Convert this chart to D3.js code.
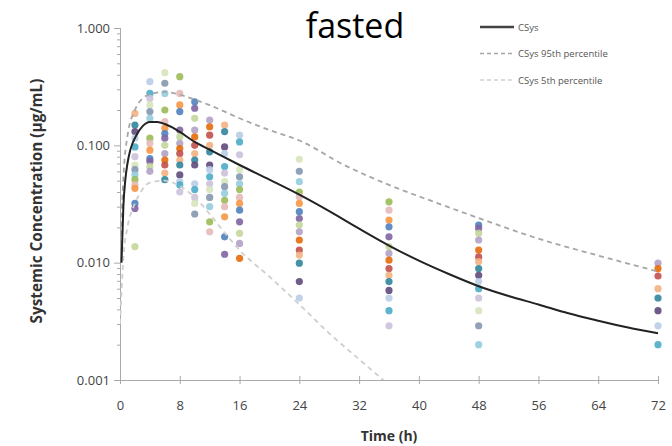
<!DOCTYPE html>
<html><head><meta charset="utf-8">
<script src="https://cdn.jsdelivr.net/npm/d3@7"></script>
<style>body{margin:0;background:#fff} svg{display:block}</style>
</head><body><svg id="c" width="672" height="446"></svg>
<script>
// ---- data ----
const sampleTimes = [2, 4, 6, 8, 10, 12, 14, 16, 24, 36, 48, 72];
const observed = [
  [0.187,0.149,0.131,0.115,0.097,0.080,0.068,0.062,0.056,0.051,0.046,0.043,0.032,0.029,0.0137],
  [0.349,0.277,0.251,0.221,0.194,0.170,0.115,0.104,0.091,0.077,0.073,0.066,0.060],
  [0.416,0.338,0.277,0.200,0.159,0.140,0.126,0.115,0.100,0.085,0.075,0.068,0.058,0.051],
  [0.385,0.277,0.221,0.194,0.135,0.118,0.104,0.094,0.085,0.075,0.068,0.056,0.049,0.046,0.040],
  [0.235,0.207,0.170,0.135,0.118,0.100,0.085,0.075,0.068,0.047,0.042,0.036,0.032,0.026],
  [0.164,0.144,0.122,0.100,0.088,0.068,0.062,0.054,0.047,0.042,0.036,0.030,0.0223,0.0183],
  [0.149,0.131,0.097,0.085,0.066,0.058,0.049,0.0444,0.039,0.034,0.030,0.0246,0.0166,0.0118],
  [0.122,0.107,0.083,0.062,0.054,0.047,0.042,0.036,0.032,0.028,0.0223,0.0178,0.0146,0.0109],
  [0.076,0.060,0.049,0.040,0.0365,0.032,0.0272,0.0238,0.0209,0.0183,0.0156,0.0128,0.0116,0.0099,0.0069,0.0050],
  [0.033,0.028,0.0231,0.0202,0.0166,0.0137,0.012,0.0105,0.0089,0.0078,0.0069,0.0058,0.0050,0.0039,0.0029],
  [0.0209,0.0196,0.0178,0.0156,0.0128,0.0112,0.0102,0.0089,0.0078,0.0069,0.0060,0.0050,0.0039,0.0029,0.0020],
  [0.0099,0.0089,0.0077,0.0060,0.0050,0.0039,0.0029,0.0020]
];
const meanTime = [0.2,0.45,0.7,1,1.35,1.7,2.2,3,4,5,6,7,8,10,12,14,16,20,24,28,32,36,40,44,48,52,56,60,64,68,72];
const meanConc = [0.01,0.03,0.05,0.07,0.09,0.105,0.122,0.145,0.158,0.158,0.152,0.142,0.13,0.107,0.092,0.079,0.068,0.051,0.038,0.0275,0.0195,0.014,0.0104,0.0080,0.0063,0.0052,0.0044,0.0037,0.0032,0.0028,0.0025];
const p95Time = [0,0.5,1,2,3,4,6,8,10,12,16,20,24,30,36,42,48,56,64,72];
const p95Conc = [0.01,0.06,0.12,0.2,0.25,0.272,0.285,0.27,0.245,0.22,0.17,0.135,0.11,0.068,0.046,0.033,0.024,0.016,0.0115,0.0084];
const p5Time = [0,0.5,1,2,3,4,6,8,10,12,14,16,20,24,28,32,36,40];
const p5Conc = [0.003,0.012,0.02,0.032,0.042,0.048,0.05,0.045,0.036,0.026,0.018,0.0128,0.0076,0.0044,0.0025,0.0015,0.0009,0.0005];
const xTicks = [0,8,16,24,32,40,48,56,64,72];
const yTicks = [0.001,0.01,0.1,1];
const legendLabels = ["CSys","CSys 95th percentile","CSys 5th percentile"];
const titleText = "fasted";
const xTitle = "Time (h)";
const yTitle = "Systemic Concentration (\u00b5g/mL)";
const dotColors = ["#f4b183","#31859c","#604a7b","#b9cde5","#4bacc6","#ccc1da","#d7e4bd","#8497b0",
  "#93cddd","#9bbb59","#e6b9b8","#f79646","#4f81bd","#8064a2","#c3d69b","#b3a2c7","#e46c0a","#c0504d"];

// ---- chart ----
const svg = d3.select("#c");
const font = "'Open Sans', sans-serif";
const x = d3.scaleLinear().domain([0,72]).range([120,658]);
const y = d3.scaleLog().domain([0.001,1]).range([380,28]);

svg.append("defs").append("clipPath").attr("id","clip")
  .append("rect").attr("x",120).attr("y",20).attr("width",560).attr("height",360);

// title
svg.append("text").attr("x",355).attr("y",38).attr("text-anchor","middle")
  .attr("font-family",font).attr("font-size",34).attr("fill","#000").text(titleText);

// y axis
const minor = [];
[0.001,0.01,0.1].forEach(d=>{for(let k=2;k<=9;k++) minor.push(d*k);});
const gyMinor = svg.append("g").attr("transform","translate(120,0)")
  .call(d3.axisLeft(y).tickValues(minor).tickSize(3).tickFormat(""));
const gy = svg.append("g").attr("transform","translate(120,0)")
  .call(d3.axisLeft(y).tickValues(yTicks).tickSize(6).tickPadding(4).tickFormat(d3.format(".3f")));
[gyMinor, gy].forEach(g=>{
  g.selectAll("path.domain").attr("stroke","#aaa").attr("stroke-width",1);
  g.selectAll(".tick line").attr("stroke","#aaa");
});
gy.selectAll(".tick text").attr("font-family",font).attr("font-size",13).attr("fill","#444");

// x axis
const gx = svg.append("g").attr("transform","translate(0,380)")
  .call(d3.axisBottom(x).tickValues(xTicks).tickSize(5).tickPadding(16).tickSizeOuter(0));
gx.selectAll("path.domain").attr("stroke","#aaa");
gx.selectAll(".tick line").attr("stroke","#aaa").attr("y1",-4).attr("y2",4);
gx.selectAll(".tick text").attr("font-family",font).attr("font-size",13).attr("fill","#444");

// axis titles
svg.append("text").attr("x",389).attr("y",441).attr("text-anchor","middle")
  .attr("font-family",font).attr("font-weight","bold").attr("font-size",14).attr("fill","#333").text(xTitle);
svg.append("text").attr("transform","translate(42,201) rotate(-90)").attr("text-anchor","middle")
  .attr("font-family",font).attr("font-weight","bold").attr("font-size",15.3).attr("fill","#333").text(yTitle);

// observed dots
const plot = svg.append("g").attr("clip-path","url(#clip)");
sampleTimes.forEach((t,ci)=>{
  plot.selectAll(null).data(observed[ci]).enter().append("circle")
    .attr("cx",x(t)).attr("cy",d=>y(d)).attr("r",3.6)
    .attr("fill",(d,i)=>dotColors[(i+ci*3)%dotColors.length]).attr("opacity",0.9);
});

// lines
const line = (tt,cc)=> d3.line().curve(d3.curveMonotoneX).x((d,i)=>x(tt[i])).y(d=>y(d))(cc);
plot.append("path").attr("d",line(p5Time,p5Conc)).attr("fill","none")
  .attr("stroke","#cfcfcf").attr("stroke-width",1.8).attr("stroke-dasharray","5,4");
plot.append("path").attr("d",line(p95Time,p95Conc)).attr("fill","none")
  .attr("stroke","#a6a6a6").attr("stroke-width",1.8).attr("stroke-dasharray","5,4");
plot.append("path").attr("d",line(meanTime,meanConc)).attr("fill","none")
  .attr("stroke","#222").attr("stroke-width",2);

// legend
const legStyles = [{c:"#444",w:2.5,d:null},{c:"#a6a6a6",w:1.5,d:"4,3"},{c:"#cfcfcf",w:1.5,d:"4,3"}];
const leg = svg.append("g");
legendLabels.forEach((lab,i)=>{
  const yy = 27 + i*26.5;
  const s = legStyles[i];
  leg.append("line").attr("x1",480).attr("x2",514).attr("y1",yy).attr("y2",yy)
    .attr("stroke",s.c).attr("stroke-width",s.w).attr("stroke-dasharray",s.d);
  leg.append("text").attr("x",518).attr("y",yy+3.5).attr("font-family",font)
    .attr("font-size",9.5).attr("fill","#555").text(lab);
});
</script></body></html>
